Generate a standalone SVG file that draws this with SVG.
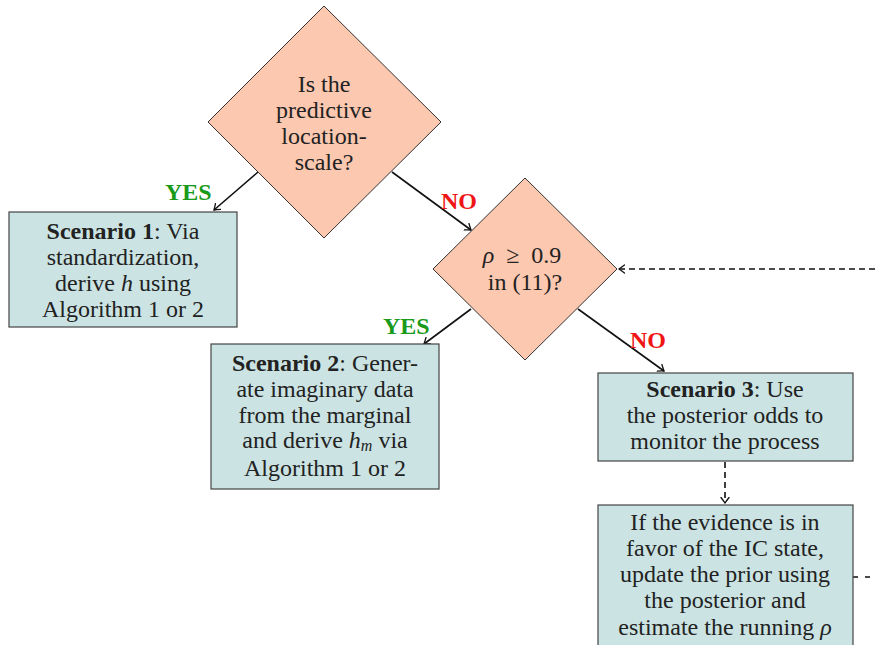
<svg xmlns="http://www.w3.org/2000/svg" width="875" height="645" viewBox="0 0 875 645">
<defs>
<marker id="arr" viewBox="-6 -5 8 10" markerWidth="8" markerHeight="10" refX="0" refY="0" orient="auto" markerUnits="userSpaceOnUse">
<path d="M-5.5,-4 Q-1.5,-1 0,0 Q-1.5,1 -5.5,4" fill="none" stroke="#111" stroke-width="1.3" stroke-linecap="round"/>
</marker>
</defs>
<style>
.dia{fill:#fcc8b0;stroke:#333;stroke-width:1}
.box{fill:#cbe4e3;stroke:#444;stroke-width:1.2}
text{font-family:'Liberation Serif','Times New Roman','DejaVu Serif',serif}
.t{font-size:24px;fill:#222;text-anchor:middle}
.b{font-weight:bold}
.i{font-style:italic}
.yes{font-size:24px;font-weight:bold;fill:#1a9a1a}
.no{font-size:24px;font-weight:bold;fill:#f01515}
.c{fill:none;stroke:#111;stroke-width:1.6;marker-end:url(#arr)}
.d{fill:none;stroke:#111;stroke-width:1.6;stroke-dasharray:6,4;marker-end:url(#arr)}
</style>
<rect width="875" height="645" fill="#fff"/>
<g id="connectors">
<line class="c" x1="258" y1="172" x2="214" y2="210"/>
<line class="c" x1="392" y1="172" x2="471" y2="230"/>
<line class="c" x1="471" y1="309" x2="424" y2="344"/>
<line class="c" x1="578" y1="309" x2="664" y2="371"/>
<line class="d" x1="875" y1="269" x2="619" y2="269"/>
<line class="d" x1="725" y1="462" x2="725" y2="503"/>
<line fill="none" stroke="#111" stroke-width="1.6" stroke-dasharray="5,7" x1="853" y1="577" x2="875" y2="577"/>
<text class="yes" x="165" y="200">YES</text>
<text class="no" x="441" y="209">NO</text>
<text class="yes" x="383" y="334">YES</text>
<text class="no" x="630" y="348">NO</text>
</g>
<g id="q1">
<polygon class="dia" points="324,6 441,122 324,238 208,122"/>
<text class="t" x="324" y="92">Is the</text>
<text class="t" x="324" y="118">predictive</text>
<text class="t" x="324" y="144">location-</text>
<text class="t" x="324" y="170">scale?</text>
</g>
<g id="q2">
<polygon class="dia" points="525,178 617,269 525,360 433,269"/>
<text class="t" x="522" y="263" xml:space="preserve"><tspan class="i">ρ</tspan>  ≥  0.9</text>
<text class="t" x="525" y="290">in (11)?</text>
</g>
<g id="s1">
<rect class="box" x="9" y="212" width="228" height="115"/>
<text class="t" x="123" y="239"><tspan class="b">Scenario 1</tspan>: Via</text>
<text class="t" x="123" y="265">standardization,</text>
<text class="t" x="123" y="291">derive <tspan class="i">h</tspan> using</text>
<text class="t" x="123" y="317">Algorithm 1 or 2</text>
</g>
<g id="s2">
<rect class="box" x="211" y="344" width="228" height="145"/>
<text class="t" x="325" y="371"><tspan class="b">Scenario 2</tspan>: Gener-</text>
<text class="t" x="325" y="397">ate imaginary data</text>
<text class="t" x="325" y="423">from the marginal</text>
<text class="t" x="325" y="448">and derive <tspan class="i">h</tspan><tspan class="i" font-size="16" dy="3">m</tspan><tspan dy="-3"> via</tspan></text>
<text class="t" x="325" y="476">Algorithm 1 or 2</text>
</g>
<g id="s3">
<rect class="box" x="598" y="373" width="255" height="88"/>
<text class="t" x="725" y="397"><tspan class="b">Scenario 3</tspan>: Use</text>
<text class="t" x="725" y="423">the posterior odds to</text>
<text class="t" x="725" y="449">monitor the process</text>
</g>
<g id="update">
<rect class="box" x="598" y="505" width="255" height="150"/>
<text class="t" x="725" y="530">If the evidence is in</text>
<text class="t" x="725" y="556">favor of the IC state,</text>
<text class="t" x="725" y="582">update the prior using</text>
<text class="t" x="725" y="608">the posterior and</text>
<text class="t" x="725" y="635">estimate the running <tspan class="i">ρ</tspan></text>
</g>
</svg>
